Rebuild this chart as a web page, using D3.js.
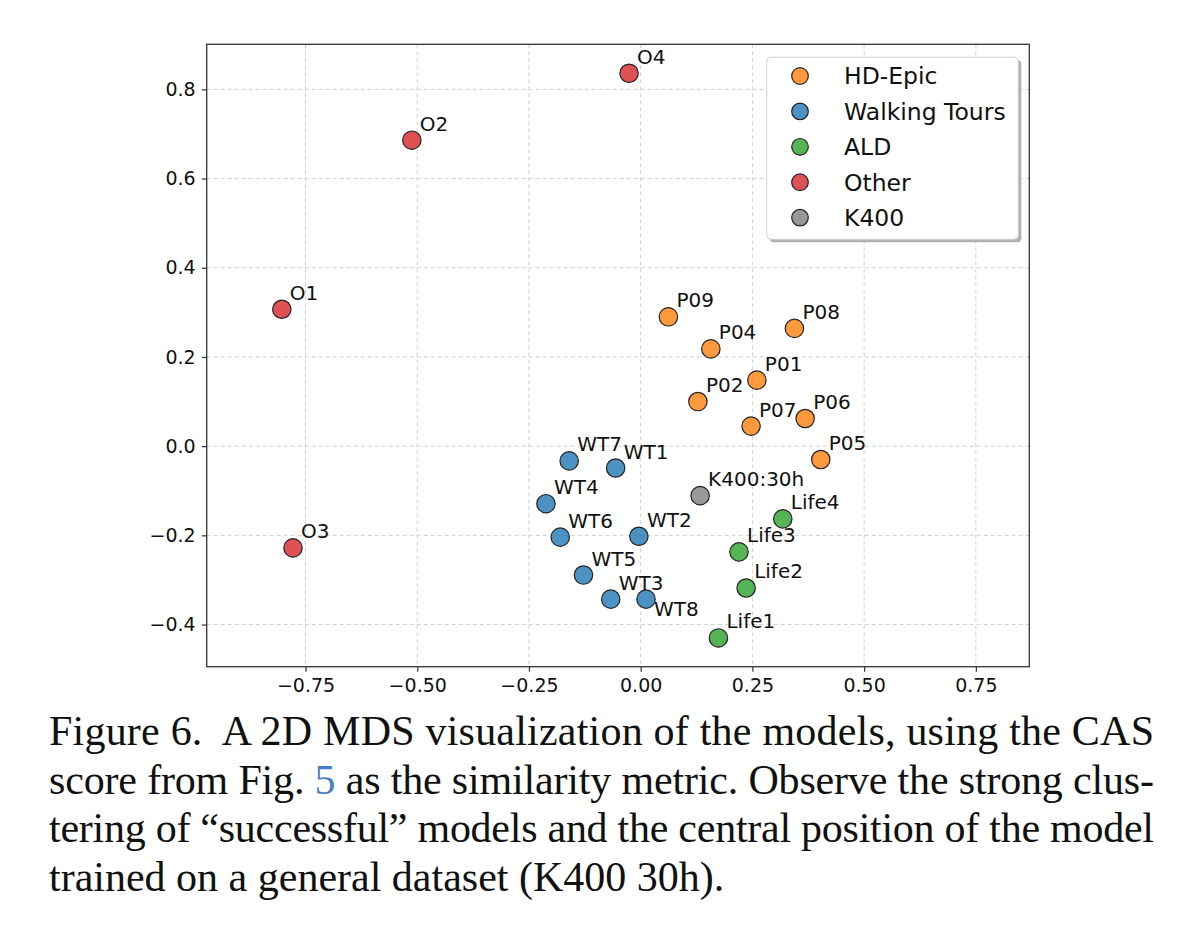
<!DOCTYPE html>
<html lang="en">
<head>
    <meta charset="UTF-8">
    <title>2D MDS visualization of the models</title>
    <script src="https://cdnjs.cloudflare.com/ajax/libs/d3/7.8.5/d3.min.js"></script>
    <style>
        * {
            margin: 0;
            padding: 0;
            box-sizing: border-box;
        }

        body {
            background-color: #fff;
            width: 1200px;
            height: 940px;
            overflow: hidden;
        }

        .grid line {
            stroke: #d0d0d0;
            stroke-dasharray: 4,3;
            stroke-width: 1;
        }

        .axis text {
            font-family: 'DejaVu Sans', sans-serif;
            font-size: 19px;
            fill: #111;
        }

        .axis line {
            stroke: #333;
            stroke-width: 1.2;
        }

        .label {
            font-family: 'DejaVu Sans', sans-serif;
            font-size: 20px;
            fill: #111;
        }

        .legend-text {
            font-family: 'DejaVu Sans', sans-serif;
            font-size: 23.5px;
            fill: #111;
        }

        .caption {
            font-family: 'Liberation Serif', 'Times New Roman', serif;
            font-size: 42px;
            fill: #111;
            white-space: pre;
        }
    </style>
</head>
<body>
    <svg id="chart" width="1200" height="940"></svg>

    <script>
        // Groups (legend order) and their colours
        const groups = ['HD-Epic', 'Walking Tours', 'ALD', 'Other', 'K400'];
        const groupColors = ['#ff7f0e', '#1f77b4', '#2ca02c', '#d62728', '#7f7f7f'];

        // Model points
        const names = ['P09', 'P08', 'P04', 'P01', 'P02', 'P07', 'P06', 'P05',
                       'WT7', 'WT1', 'WT4', 'WT6', 'WT2', 'WT5', 'WT3', 'WT8',
                       'Life4', 'Life3', 'Life2', 'Life1',
                       'O1', 'O2', 'O3', 'O4',
                       'K400:30h'];
        const pointGroups = ['HD-Epic', 'HD-Epic', 'HD-Epic', 'HD-Epic', 'HD-Epic', 'HD-Epic', 'HD-Epic', 'HD-Epic',
                             'Walking Tours', 'Walking Tours', 'Walking Tours', 'Walking Tours',
                             'Walking Tours', 'Walking Tours', 'Walking Tours', 'Walking Tours',
                             'ALD', 'ALD', 'ALD', 'ALD',
                             'Other', 'Other', 'Other', 'Other',
                             'K400'];
        const xValues = [0.062, 0.344, 0.157, 0.260, 0.128, 0.247, 0.368, 0.403,
                         -0.160, -0.056, -0.212, -0.180, -0.004, -0.128, -0.067, 0.012,
                         0.318, 0.220, 0.236, 0.174,
                         -0.803, -0.512, -0.778, -0.026,
                         0.133];
        const yValues = [0.290, 0.264, 0.218, 0.148, 0.100, 0.045, 0.062, -0.030,
                         -0.033, -0.049, -0.129, -0.204, -0.202, -0.289, -0.343, -0.343,
                         -0.163, -0.237, -0.318, -0.430,
                         0.307, 0.686, -0.228, 0.836,
                         -0.111];

        // Tick values
        const xTicks = [-0.75, -0.5, -0.25, 0, 0.25, 0.5, 0.75];
        const yTicks = [-0.4, -0.2, 0, 0.2, 0.4, 0.6, 0.8];

        // Caption lines (last one is not justified)
        const captionLines = [
            'Figure 6.  A 2D MDS visualization of the models, using the CAS',
            ['score from Fig. ', '5', ' as the similarity metric. Observe the strong clus-'],
            'tering of \u201csuccessful\u201d models and the central position of the model',
            'trained on a general dataset (K400 30h).'
        ];

        const plot = {left: 206.7, right: 1029.3, top: 44.3, bottom: 666.7};

        const svg = d3.select('#chart');

        const x = d3.scaleLinear()
            .domain([-0.9711, 0.8696])
            .range([plot.left, plot.right]);

        const y = d3.scaleLinear()
            .domain([-0.4945, 0.901])
            .range([plot.bottom, plot.top]);

        const color = d3.scaleOrdinal()
            .domain(groups)
            .range(groupColors);

        // Grid
        svg.append('g')
            .attr('class', 'grid')
            .selectAll('line.v')
            .data(xTicks)
            .enter()
            .append('line')
            .attr('x1', d => x(d))
            .attr('x2', d => x(d))
            .attr('y1', plot.top)
            .attr('y2', plot.bottom);

        svg.append('g')
            .attr('class', 'grid')
            .selectAll('line.h')
            .data(yTicks)
            .enter()
            .append('line')
            .attr('x1', plot.left)
            .attr('x2', plot.right)
            .attr('y1', d => y(d))
            .attr('y2', d => y(d));

        // Axes
        const xAxis = svg.append('g')
            .attr('class', 'axis')
            .attr('transform', `translate(0,${plot.bottom})`)
            .call(d3.axisBottom(x)
                .tickValues(xTicks)
                .tickFormat(d3.format('.2f'))
                .tickSize(5)
                .tickPadding(7)
                .tickSizeOuter(0));
        xAxis.select('.domain').remove();

        const yAxis = svg.append('g')
            .attr('class', 'axis')
            .attr('transform', `translate(${plot.left},0)`)
            .call(d3.axisLeft(y)
                .tickValues(yTicks)
                .tickFormat(d3.format('.1f'))
                .tickSize(5)
                .tickPadding(6)
                .tickSizeOuter(0));
        yAxis.select('.domain').remove();

        // Frame
        svg.append('rect')
            .attr('x', plot.left)
            .attr('y', plot.top)
            .attr('width', plot.right - plot.left)
            .attr('height', plot.bottom - plot.top)
            .attr('fill', 'none')
            .attr('stroke', '#333')
            .attr('stroke-width', 1.3);

        const points = names.map((n, i) => ({
            name: n, group: pointGroups[i], x: xValues[i], y: yValues[i]
        }));

        // Points
        svg.append('g')
            .selectAll('circle')
            .data(points)
            .enter()
            .append('circle')
            .attr('cx', d => x(d.x))
            .attr('cy', d => y(d.y))
            .attr('r', 9.2)
            .attr('fill', d => color(d.group))
            .attr('fill-opacity', 0.8)
            .attr('stroke', '#222')
            .attr('stroke-width', 1.2);

        // Labels (WT8 sits below its point)
        svg.append('g')
            .selectAll('text')
            .data(points)
            .enter()
            .append('text')
            .attr('class', 'label')
            .attr('x', d => x(d.x) + 8)
            .attr('y', d => y(d.y) + (d.name === 'WT8' ? 17 : -9.5))
            .text(d => d.name);

        // Legend
        const legend = svg.append('g');
        const lg = {x: 766.7, y: 57.3, w: 251.6, h: 182};

        legend.append('rect')
            .attr('x', lg.x + 3)
            .attr('y', lg.y + 3)
            .attr('width', lg.w)
            .attr('height', lg.h)
            .attr('rx', 4)
            .attr('fill', '#b0b0b0');

        legend.append('rect')
            .attr('x', lg.x)
            .attr('y', lg.y)
            .attr('width', lg.w)
            .attr('height', lg.h)
            .attr('rx', 4)
            .attr('fill', '#fff')
            .attr('stroke', '#d0d0d0')
            .attr('stroke-width', 1);

        const items = legend.selectAll('g.item')
            .data(groups)
            .enter()
            .append('g')
            .attr('transform', (d, i) => `translate(800,${76 + i * 35.4})`);

        items.append('circle')
            .attr('r', 8.3)
            .attr('fill', d => color(d))
            .attr('fill-opacity', 0.8)
            .attr('stroke', '#222')
            .attr('stroke-width', 1.2);

        items.append('text')
            .attr('class', 'legend-text')
            .attr('x', 44)
            .attr('dy', '0.36em')
            .text(d => d);

        // Caption
        const capLeft = 49, capRight = 1154;
        captionLines.forEach((line, i) => {
            const t = svg.append('text')
                .attr('class', 'caption')
                .attr('x', capLeft)
                .attr('y', 745 + i * 48.7);
            if (Array.isArray(line)) {
                line.forEach((part, j) => {
                    t.append('tspan')
                        .attr('fill', j === 1 ? '#4a7fc1' : '#111')
                        .text(part);
                });
            } else {
                t.text(line);
            }
            if (i < captionLines.length - 1) {
                t.attr('textLength', capRight - capLeft)
                    .attr('lengthAdjust', 'spacing');
            }
        });
    </script>
</body>
</html>
